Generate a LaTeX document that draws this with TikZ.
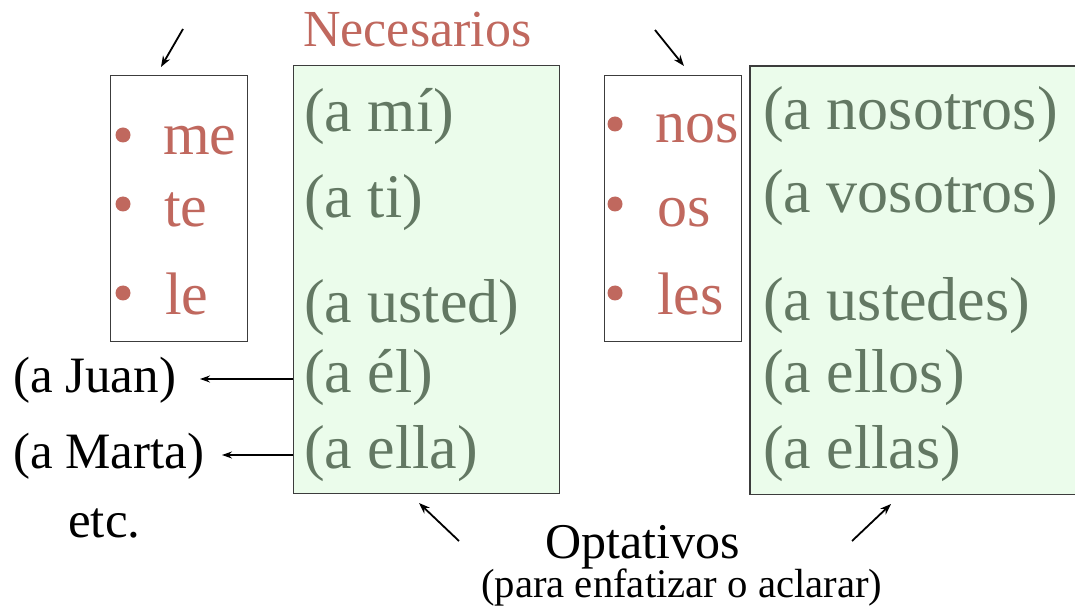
\documentclass[tikz,border=0pt]{standalone}
\usepackage{fontspec}
\setmainfont{Liberation Serif}
\usetikzlibrary{arrows.meta}
\definecolor{redtxt}{HTML}{C0685E}
\definecolor{greentxt}{HTML}{637863}
\definecolor{boxfill}{HTML}{EBFCEB}
\definecolor{boxline}{HTML}{3C3C3C}
\begin{document}
\begin{tikzpicture}[x=1pt,y=-1pt,
  txt/.style={inner sep=0pt, anchor=base west},
  redword/.style={txt, text=redtxt, font=\fontsize{60}{60}\selectfont},
  greenword/.style={txt, text=greentxt, font=\fontsize{62}{62}\selectfont},
  blackword/.style={txt, text=black, font=\fontsize{51}{51}\selectfont},
  whitebox/.style={draw=boxline, line width=1.3pt, fill=white, inner sep=0pt, anchor=north west},
  greenbox/.style={fill=boxfill, inner sep=0pt, anchor=north west},
  bul/.style={fill=redtxt},
  arr/.style={-{Stealth[length=10pt,width=7pt]}, line width=1.2pt},
  arrthick/.style={-{Stealth[length=11pt,width=8pt]}, line width=1.8pt}
]
\useasboundingbox (0,0) rectangle (1075,609);

% boxes
\node[whitebox, minimum width=137pt, minimum height=266pt] (boxA) at (110,75) {};
\node[greenbox, draw=boxline, line width=1.3pt, minimum width=266pt, minimum height=428pt] (boxB) at (293,65) {};
\node[whitebox, minimum width=137pt, minimum height=266pt] (boxC) at (604,75) {};
\node[greenbox, minimum width=326pt, minimum height=428pt] (boxD) at (750,66) {};
\draw[draw=boxline, line width=1.3pt] (boxD.north east) -- (boxD.north west) -- (boxD.south west) -- (boxD.south east);

% title
\node[txt, text=redtxt, font=\fontsize{52}{52}\selectfont] (nec) at (303,47) {Necesarios};

% red bullets and words
\fill[bul] (123,135) circle (7.5);
\fill[bul] (123,204) circle (7.5);
\fill[bul] (123,293) circle (7.5);
\node[redword] (me) at (163,155) {me};
\node[redword] (te) at (164,227) {te};
\node[redword] (le) at (165,315) {le};

\fill[bul] (615,124) circle (7.5);
\fill[bul] (615,204) circle (7.5);
\fill[bul] (615,293) circle (7.5);
\node[redword] (nos) at (655,143) {nos};
\node[redword] (os) at (657,227) {os};
\node[redword] (les) at (657,315) {les};

% green words
\node[greenword] (ami) at (304,132) {(a mí)};
\node[greenword] (ati) at (304,218) {(a ti)};
\node[greenword] (austed) at (304,322) {(a usted)};
\node[greenword] (ael) at (304,392) {(a él)};
\node[greenword] (aella) at (304,468) {(a ella)};

\node[greenword] (anos) at (763,130) {(a nosotros)};
\node[greenword] (avos) at (763,213) {(a vosotros)};
\node[greenword] (austedes) at (763,320) {(a ustedes)};
\node[greenword] (aellos) at (763,392) {(a ellos)};
\node[greenword] (aellas) at (763,468) {(a ellas)};

% black words
\node[blackword] (juan) at (13,392) {(a Juan)};
\node[blackword] (marta) at (13,468) {(a Marta)};
\node[blackword] (etc) at (68,537) {etc.};
\node[txt, font=\fontsize{50}{50}\selectfont] (opt) at (545,558) {Optativos};
\node[txt, font=\fontsize{40.7}{40.7}\selectfont] (para) at (481,597) {(para enfatizar o aclarar)};

% arrows
\coordinate (juanTip) at (200,379);
\coordinate (martaTip) at (222,455);
\draw[arr] (boxB.west |- juanTip) -- (juanTip);
\draw[arr] (boxB.west |- martaTip) -- (martaTip);

\coordinate (tlS) at (183,29);
\coordinate (tlE) at (161,67);
\draw[arrthick] (tlS) -- (tlE);
\coordinate (trS) at (655,30);
\coordinate (trE) at (684,66);
\draw[arrthick] (trS) -- (trE);
\coordinate (blS) at (459,541);
\coordinate (blE) at (419,503);
\draw[arrthick] (blS) -- (blE);
\coordinate (brS) at (852,541);
\coordinate (brE) at (891,504);
\draw[arrthick] (brS) -- (brE);
\end{tikzpicture}
\end{document}
